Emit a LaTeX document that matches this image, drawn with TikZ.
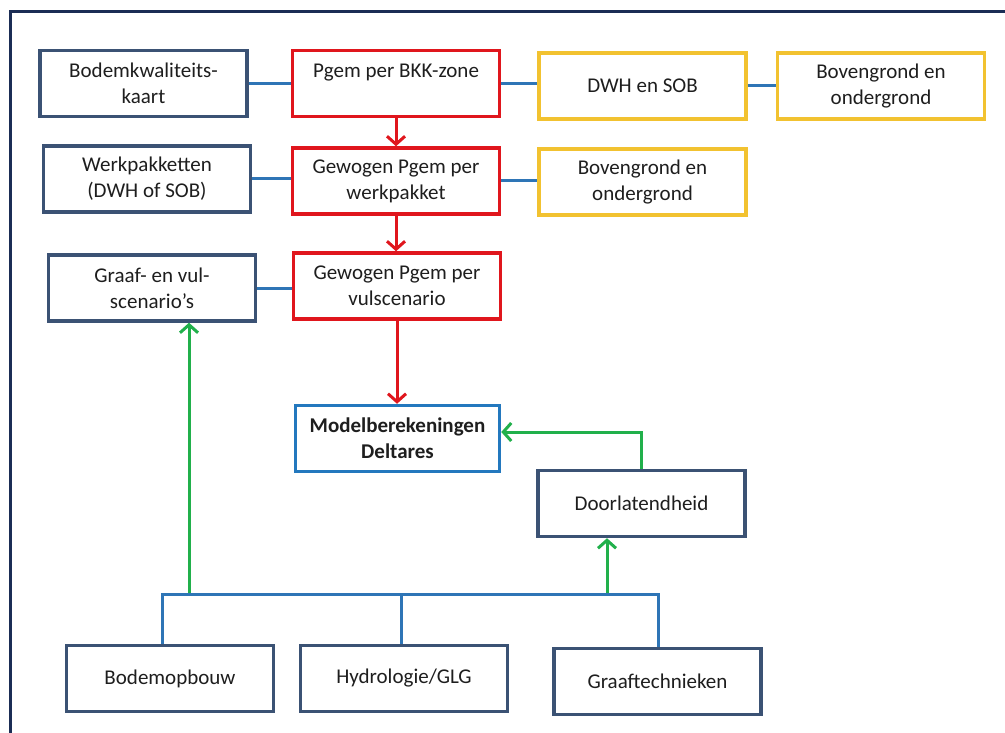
\documentclass[tikz,border=0pt]{standalone}
\usepackage{fontspec}
\setmainfont{Carlito}
\usetikzlibrary{arrows.meta,calc}
\definecolor{navy}{HTML}{3B5274}
\definecolor{frame}{HTML}{1B2D55}
\definecolor{rbox}{HTML}{E0161D}
\definecolor{ybox}{HTML}{F2C230}
\definecolor{mblue}{HTML}{2378BE}
\definecolor{cblue}{HTML}{2E75B6}
\definecolor{cgreen}{HTML}{21B04B}
\definecolor{txt}{HTML}{1E1E1E}
\tikzset{
  box/.style={draw=navy, line width=3.5pt, minimum width=207pt, minimum height=66pt,
    inner sep=2pt, align=center, text=txt, font=\fontsize{21}{26}\selectfont},
  redbox/.style={box, draw=rbox},
  yelbox/.style={box, draw=ybox},
  modbox/.style={box, draw=mblue, minimum width=204pt, font=\fontsize{21}{26}\selectfont\bfseries},
  link/.style={draw=cblue, line width=3pt},
  redarrow/.style={draw=rbox, line width=3pt, -{Straight Barb[length=8pt,width=18pt,line width=3pt]}},
  greenarrow/.style={draw=cgreen, line width=3pt, -{Straight Barb[length=8pt,width=18pt,line width=3pt]}},
}
\begin{document}
\begin{tikzpicture}[x=1pt,y=-1pt]
\useasboundingbox (0,0) rectangle (1005,733);
\fill[white] (0,0) rectangle (1005,733);
% frame
\draw[frame, line width=3pt] (10,733) -- (10,12) -- (1005,12);

% nodes
\node[box] (kaart) at (143.5,83.5) {Bodemkwaliteits-\\kaart};
\node[redbox] (pgem) at (396,83.5) {Pgem per BKK-zone\\\mbox{}};
\node[yelbox] (dwh) at (642.5,86) {DWH en SOB};
\node[yelbox] (bov1) at (881,86) {Bovengrond en\\ondergrond};
\node[box] (werk) at (147,179) {Werkpakketten\\(DWH of SOB)};
\node[redbox] (gew) at (396,181) {Gewogen Pgem per\\werkpakket};
\node[yelbox] (bov2) at (642.5,182) {Bovengrond en\\ondergrond};
\node[box] (graaf) at (152,288) {Graaf- en vul-\\scenario’s};
\node[redbox] (gewvul) at (397,286) {Gewogen Pgem per\\vulscenario};
\node[modbox] (model) at (397.5,438.5) {Modelberekeningen\\Deltares};
\node[box] (door) at (641.5,503.5) {Doorlatendheid};
\node[box] (bodem) at (170,678.5) {Bodemopbouw};
\node[box] (hydro) at (404,678.5) {Hydrologie/GLG};
\node[box] (graaft) at (657.5,681.5) {Graaftechnieken};

% horizontal links
\draw[link] (kaart.east) -- (kaart.east -| pgem.west);
\draw[link] (pgem.east) -- (pgem.east -| dwh.west);
\draw[link] (dwh.east) -- (dwh.east -| bov1.west);
\draw[link] (werk.east) -- (werk.east -| gew.west);
\draw[link] (gew.east) -- (gew.east -| bov2.west);
\draw[link] (graaf.east) -- (graaf.east -| gewvul.west);

% red arrows
\draw[redarrow] (pgem.south) -- (pgem.south |- gew.north);
\draw[redarrow] (gew.south) -- (gew.south |- gewvul.north);
\draw[redarrow] (gewvul.south) -- (gewvul.south |- model.north);

% bus
\coordinate (busL) at (162,594);
\coordinate (busR) at (658,594);
\coordinate (busH) at (401,594);
\coordinate (gA) at (189,594);
\coordinate (gB) at (607,594);
\draw[greenarrow] (gA) -- (gA |- graaf.south);
\draw[greenarrow] (gB) -- (gB |- door.south);
\draw[link, line join=miter] (busL |- bodem.north) -- (busL) -- (busR) -- (busR |- graaft.north);
\draw[link] (busH) -- (busH |- hydro.north);

% doorlatendheid to model
\coordinate (dUp) at (641,432);
\draw[greenarrow] (dUp |- door.north) -- (dUp) -- (dUp -| model.east);
\end{tikzpicture}
\end{document}
